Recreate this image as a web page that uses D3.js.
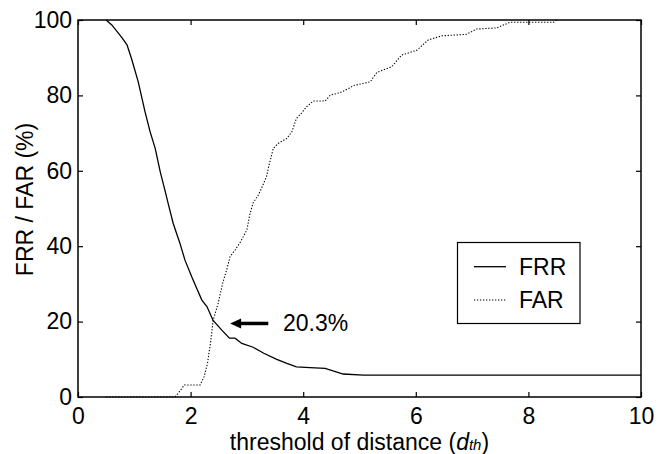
<!DOCTYPE html>
<html>
<head>
<meta charset="utf-8">
<script src="https://cdn.jsdelivr.net/npm/d3@7"></script>
<style>
  html, body { margin: 0; padding: 0; background: #fff; }
  svg { display: block; }
  text { font-family: "Liberation Sans", Arial, Helvetica, sans-serif; fill: #000; }
</style>
</head>
<body>
<svg id="chart" width="659" height="454"></svg>
<script>
// False rejection rate vs. threshold
const frrX = [0.50, 0.60, 0.78, 0.87, 0.95, 1.07, 1.19, 1.28, 1.37, 1.46, 1.55, 1.60, 1.69, 1.81, 1.90,
              2.02, 2.11, 2.20, 2.29, 2.40, 2.55, 2.69, 2.79, 2.91, 3.11, 3.30, 3.53, 3.71, 3.88, 4.12,
              4.39, 4.53, 4.71, 5.07, 10.0];
const frrY = [100, 98.7, 95.3, 93.4, 89.8, 83.6, 75.7, 70.4, 66.0, 59.8, 54.5, 51.4, 46.1, 40.8, 36.3,
              31.9, 28.8, 25.7, 24.0, 20.3, 17.8, 15.6, 15.6, 14.2, 13.2, 11.6, 10.0, 8.9, 8.0, 7.8,
              7.6, 6.9, 6.1, 5.8, 5.8];

// False acceptance rate vs. threshold
const farX = [0.50, 1.72, 1.78, 1.89, 2.17, 2.24, 2.30, 2.36, 2.40, 2.49, 2.57, 2.64, 2.70, 2.79, 2.88,
              3.00, 3.05, 3.11, 3.20, 3.26, 3.35, 3.38, 3.47, 3.56, 3.71, 3.80, 3.88, 3.97, 4.06, 4.18,
              4.39, 4.48, 4.65, 4.83, 4.89, 5.19, 5.31, 5.57, 5.75, 6.02, 6.22, 6.46, 6.90, 7.08, 7.44,
              7.67, 8.45, 8.50];
const farY = [0, 0, 1.0, 3.2, 3.2, 5.4, 8.9, 15.1, 20.3, 24.9, 30.2, 33.7, 37.2, 39.0, 41.0,
              44.3, 48.3, 51.5, 53.5, 55.4, 58.5, 60.7, 66.0, 67.3, 68.6, 70.4, 73.9, 75.3, 77.0, 78.5,
              78.5, 80.1, 80.7, 82.0, 82.6, 83.6, 86.1, 87.6, 90.7, 92.0, 94.7, 95.8, 96.2, 97.6, 97.9,
              99.4, 99.4, 100];

const xTicks = [0, 2, 4, 6, 8, 10];
const yTicks = [0, 20, 40, 60, 80, 100];
const seriesNames = ["FRR", "FAR"];
const eerX = 2.40;
const eerValue = 20.3;

const svg = d3.select("#chart");
const margin = { left: 78, right: 18, top: 20, bottom: 57 };
const W = 659, H = 454;
const x = d3.scaleLinear().domain([0, 10]).range([margin.left, W - margin.right]);
const y = d3.scaleLinear().domain([0, 100]).range([H - margin.bottom, margin.top]);

const fontSize = 23;
const tickLen = 5;

// Curves
const line = d3.line().x(d => x(d[0])).y(d => y(d[1]));
const frr = frrX.map((v, i) => [v, frrY[i]]);
const far = farX.map((v, i) => [v, farY[i]]);

svg.append("path").datum(far)
  .attr("d", line).attr("fill", "none")
  .attr("stroke", "#000").attr("stroke-width", 1.1)
  .attr("stroke-dasharray", "1.3,1.7");

svg.append("path").datum(frr)
  .attr("d", line).attr("fill", "none")
  .attr("stroke", "#000").attr("stroke-width", 1.3);

// Axes with inward ticks on all four sides
const axB = svg.append("g").attr("transform", `translate(0,${y(0)})`)
  .call(d3.axisBottom(x).tickValues(xTicks).tickSize(-tickLen).tickPadding(11).tickFormat(d3.format("d")));
const axT = svg.append("g").attr("transform", `translate(0,${y(100)})`)
  .call(d3.axisTop(x).tickValues(xTicks).tickSize(-tickLen).tickFormat(""));
const axL = svg.append("g").attr("transform", `translate(${x(0)},0)`)
  .call(d3.axisLeft(y).tickValues(yTicks).tickSize(-tickLen).tickPadding(6).tickFormat(d3.format("d")));
const axR = svg.append("g").attr("transform", `translate(${x(10)},0)`)
  .call(d3.axisRight(y).tickValues(yTicks).tickSize(-tickLen).tickFormat(""));

[axB, axT, axL, axR].forEach(a => {
  a.select(".domain").remove();
  a.selectAll(".tick line").attr("stroke", "#000").attr("stroke-width", 1.2);
  a.selectAll("text").style("font-size", fontSize + "px")
    .style("font-family", '"Liberation Sans", Arial, sans-serif').attr("fill", "#000");
});

// Frame
svg.append("rect")
  .attr("x", x(0)).attr("y", y(100))
  .attr("width", x(10) - x(0)).attr("height", y(0) - y(100))
  .attr("fill", "none").attr("stroke", "#000").attr("stroke-width", 1.5);

// Axis titles
const xt = svg.append("text")
  .attr("x", (x(0) + x(10)) / 2).attr("y", 450)
  .attr("text-anchor", "middle").style("font-size", fontSize + "px");
xt.append("tspan").text("threshold of distance (");
xt.append("tspan").attr("font-style", "italic").text("d");
xt.append("tspan").attr("font-style", "italic").style("font-size", "15px").text("th");
xt.append("tspan").text(")");

svg.append("text")
  .attr("transform", `translate(33,${(y(0) + y(100)) / 2 - 9}) rotate(-90)`)
  .attr("text-anchor", "middle").style("font-size", fontSize + "px")
  .text("FRR / FAR (%)");

// Equal error rate annotation
const arrowY = y(eerValue) + 3;
const tipX = x(eerX) + 17;
const tailX = x(3.38);
const headLen = 11, headHalf = 5;
svg.append("line")
  .attr("x1", tipX + headLen - 1).attr("x2", tailX)
  .attr("y1", arrowY).attr("y2", arrowY)
  .attr("stroke", "#000").attr("stroke-width", 3.5);
svg.append("path")
  .attr("d", `M${tipX},${arrowY} L${tipX + headLen},${arrowY - headHalf} L${tipX + headLen},${arrowY + headHalf} Z`)
  .attr("fill", "#000");
svg.append("text")
  .attr("x", x(3.64)).attr("y", arrowY + 8)
  .style("font-size", fontSize + "px")
  .text(eerValue.toFixed(1) + "%");

// Legend
const lg = svg.append("g");
lg.append("rect")
  .attr("x", 457.5).attr("y", 242.5).attr("width", 122.5).attr("height", 81)
  .attr("fill", "#fff").attr("stroke", "#000").attr("stroke-width", 1.2);
seriesNames.forEach((name, i) => {
  const ly = 266.7 + i * 33.3;
  lg.append("line")
    .attr("x1", 474).attr("x2", 506).attr("y1", ly).attr("y2", ly)
    .attr("stroke", "#000")
    .attr("stroke-width", i === 0 ? 1.3 : 1.1)
    .attr("stroke-dasharray", i === 0 ? null : "1.3,1.7");
  lg.append("text")
    .attr("x", 519).attr("y", ly + 8)
    .style("font-size", fontSize + "px")
    .text(name);
});
</script>
</body>
</html>
